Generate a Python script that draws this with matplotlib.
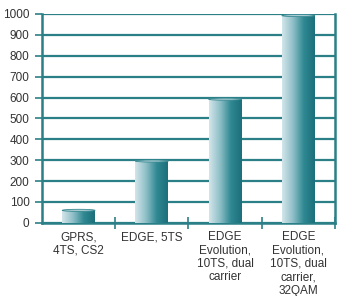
import numpy as np
import matplotlib.pyplot as plt
from matplotlib.colors import LinearSegmentedColormap
from matplotlib.patches import Ellipse

categories = ["GPRS,\n4TS, CS2", "EDGE, 5TS", "EDGE\nEvolution,\n10TS, dual\ncarrier",
              "EDGE\nEvolution,\n10TS, dual\ncarrier,\n32QAM"]
values = [60, 296, 592, 992]
yticks = [0, 100, 200, 300, 400, 500, 600, 700, 800, 900, 1000]

teal = "#2b7f87"
plt.rcParams['font.family'] = ['Liberation Sans', 'DejaVu Sans']

fig = plt.figure(figsize=(3.5, 2.96), dpi=100)
ax = fig.add_axes([0.12, 0.247, 0.837, 0.706])

x = np.arange(len(categories))
bars = ax.bar(x, values, width=0.45, color="none", edgecolor="none", zorder=3)

# horizontal gradient inside each bar
cmap = LinearSegmentedColormap.from_list("bar", ["#d3e6ea", "#8fbfc7", "#2f8892", "#1b6f7a"])
grad = np.linspace(0, 1, 256).reshape(1, -1)
for b in bars:
    x0, w, h = b.get_x(), b.get_width(), b.get_height()
    im = ax.imshow(grad, cmap=cmap, aspect="auto", extent=[x0, x0 + w, 0, h],
                   zorder=3, interpolation="bicubic")
    im.set_clip_path(b)
    ax.add_patch(Ellipse((x0 + w / 2, h), w, 10, facecolor="#a9ccd2",
                         edgecolor="#3a8a93", lw=0.6, zorder=4))

ax.set_xlim(-0.5, len(categories) - 0.5)
ax.set_ylim(0, 1000)
ax.set_yticks(yticks)
ax.yaxis.grid(True, color=teal, lw=1.6, zorder=1)
ax.set_axisbelow(True)

ax.set_xticks(x)
ax.set_xticklabels(categories, fontsize=8.5, color="#333333", linespacing=1.15)
ax.set_xticks(np.arange(len(categories)) + 0.5, minor=True)
ax.tick_params(axis="x", which="major", length=0, pad=6)
ax.tick_params(axis="x", which="minor", direction="inout", length=8, width=1.2, color=teal)
ax.tick_params(axis="y", direction="out", length=5, width=1.2, color=teal,
               labelsize=8.5, labelcolor="#333333", pad=4)

for s in ["left", "bottom", "right"]:
    ax.spines[s].set_color(teal)
    ax.spines[s].set_linewidth(1.8)
ax.spines["top"].set_visible(False)

fig.savefig("out.png", dpi=100)
